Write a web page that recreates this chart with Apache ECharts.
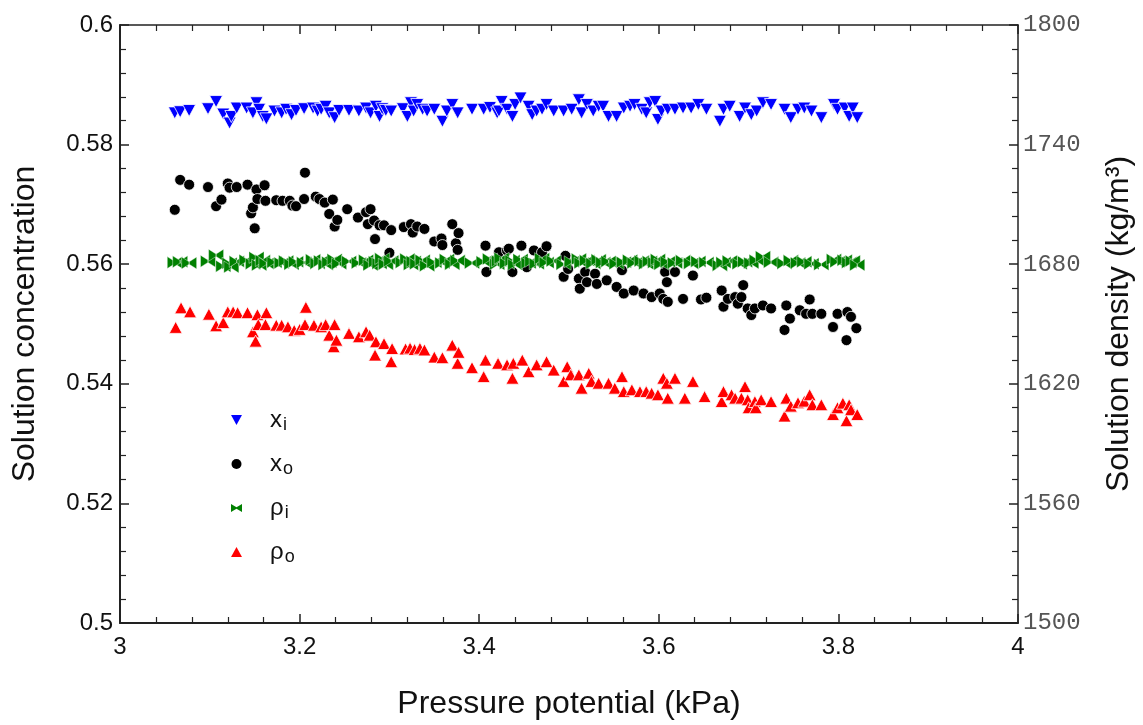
<!DOCTYPE html>
<html>
<head>
<meta charset="utf-8">
<script src="https://cdn.jsdelivr.net/npm/echarts@6/dist/echarts.min.js"></script>
<style>
html,body{margin:0;padding:0;background:#fff;}
#chart{width:1143px;height:725px;}
</style>
</head>
<body>
<div id="chart"></div>
<script>
// x axis ticks and axis ranges
const xTicks = [3, 3.2, 3.4, 3.6, 3.8, 4];
const concTicks = [0.5, 0.52, 0.54, 0.56, 0.58, 0.6];
const densTicks = [1500, 1560, 1620, 1680, 1740, 1800];

// inner side (x_i and rho_i) : pressure potential (kPa)
const innerP = [3.061,3.067,3.077,3.098,3.107,3.115,3.122,3.124,3.130,3.141,
  3.148,3.152,3.155,3.159,3.163,3.172,3.180,3.185,3.191,3.196,
  3.205,3.215,3.220,3.224,3.229,3.233,3.239,3.244,3.255,3.266,
  3.274,3.279,3.285,3.289,3.292,3.296,3.302,3.315,3.320,3.324,
  3.327,3.331,3.337,3.342,3.350,3.359,3.364,3.370,3.376,3.392,
  3.405,3.412,3.420,3.422,3.425,3.431,3.437,3.440,3.446,3.455,
  3.459,3.464,3.470,3.475,3.483,3.494,3.503,3.511,3.514,3.520,
  3.527,3.533,3.538,3.544,3.553,3.561,3.568,3.573,3.581,3.586,
  3.590,3.596,3.599,3.603,3.610,3.618,3.627,3.636,3.644,3.653,
  3.668,3.672,3.679,3.690,3.696,3.703,3.709,3.716,3.725,3.740,
  3.747,3.755,3.762,3.770,3.781,3.795,3.799,3.807,3.812,3.816,3.821];
// x_i : solution concentration
const xiValues = [0.5853,0.5855,0.5857,0.5860,0.5872,0.5851,0.5836,0.5847,0.5861,0.5861,
  0.5853,0.5870,0.5859,0.5847,0.5843,0.5856,0.5853,0.5859,0.5850,0.5857,
  0.5860,0.5861,0.5856,0.5859,0.5864,0.5853,0.5845,0.5857,0.5857,0.5856,
  0.5861,0.5853,0.5864,0.5847,0.5860,0.5857,0.5856,0.5860,0.5847,0.5870,
  0.5856,0.5867,0.5859,0.5856,0.5859,0.5839,0.5856,0.5867,0.5853,0.5859,
  0.5859,0.5862,0.5853,0.5856,0.5872,0.5859,0.5847,0.5867,0.5878,0.5864,
  0.5850,0.5856,0.5859,0.5867,0.5856,0.5856,0.5859,0.5875,0.5853,0.5867,
  0.5856,0.5864,0.5864,0.5847,0.5847,0.5861,0.5864,0.5867,0.5859,0.5853,
  0.5870,0.5872,0.5842,0.5856,0.5859,0.5859,0.5861,0.5861,0.5867,0.5859,
  0.5839,0.5859,0.5864,0.5847,0.5861,0.5850,0.5856,0.5870,0.5867,0.5859,
  0.5845,0.5859,0.5861,0.5856,0.5845,0.5867,0.5859,0.5861,0.5847,0.5861,0.5845];
// rho_i : solution density (kg/m3)
const rhoiValues = [1680.8,1681.2,1680.6,1681.5,1684.5,1679.0,1680.5,1678.6,1681.4,1682.0,
  1680.2,1683.4,1679.6,1681.8,1680.4,1681.0,1680.6,1681.6,1680.0,1681.2,
  1680.8,1682.2,1680.4,1681.6,1679.8,1681.0,1682.4,1680.2,1681.4,1680.6,
  1682.0,1679.6,1681.2,1680.4,1682.8,1680.0,1681.6,1680.8,1682.6,1679.8,
  1681.4,1680.2,1682.0,1679.2,1681.0,1680.6,1682.4,1680.0,1681.8,1680.6,
  1681.2,1682.6,1680.0,1681.6,1683.0,1680.4,1681.8,1679.8,1682.4,1680.6,
  1681.4,1680.2,1682.8,1680.8,1681.6,1680.0,1681.2,1682.6,1680.6,1681.8,
  1680.4,1682.2,1680.8,1681.4,1680.2,1681.0,1682.0,1680.6,1681.6,1680.2,
  1681.4,1680.8,1682.4,1680.0,1681.2,1680.6,1681.8,1680.4,1681.4,1680.8,
  1679.4,1680.8,1681.6,1680.2,1681.2,1680.6,1682.0,1683.8,1681.0,1680.4,
  1681.8,1680.6,1681.2,1680.2,1679.8,1682.4,1681.2,1682.0,1680.8,1681.6,1679.6];

// x_o : pressure potential and solution concentration
const xoP = [3.061,3.067,3.077,3.098,3.107,3.113,3.120,3.122,3.130,3.142,
  3.146,3.148,3.150,3.152,3.153,3.161,3.162,3.174,3.181,3.189,
  3.192,3.196,3.205,3.206,3.218,3.222,3.228,3.233,3.237,3.239,
  3.242,3.253,3.265,3.274,3.276,3.279,3.283,3.284,3.289,3.294,
  3.300,3.302,3.316,3.324,3.326,3.331,3.339,3.350,3.358,3.359,
  3.370,3.374,3.376,3.377,3.407,3.408,3.422,3.431,3.433,3.437,
  3.447,3.453,3.461,3.470,3.475,3.494,3.496,3.499,3.511,3.512,
  3.518,3.520,3.529,3.531,3.542,3.553,3.559,3.561,3.572,3.583,
  3.592,3.601,3.605,3.607,3.609,3.610,3.618,3.627,3.638,3.647,
  3.653,3.670,3.672,3.677,3.685,3.688,3.692,3.694,3.699,3.703,
  3.707,3.716,3.725,3.740,3.742,3.746,3.757,3.764,3.768,3.771,
  3.781,3.794,3.799,3.809,3.810,3.814,3.820];
const xoValues = [0.5691,0.5741,0.5733,0.5729,0.5697,0.5708,0.5735,0.5728,0.5729,0.5733,
  0.5685,0.5695,0.5660,0.5725,0.5709,0.5732,0.5706,0.5707,0.5706,0.5706,
  0.5698,0.5697,0.5709,0.5753,0.5713,0.5709,0.5703,0.5684,0.5708,0.5663,
  0.5674,0.5692,0.5678,0.5687,0.5667,0.5692,0.5673,0.5642,0.5665,0.5665,
  0.5619,0.5657,0.5662,0.5667,0.5653,0.5663,0.5659,0.5638,0.5643,0.5632,
  0.5667,0.5635,0.5624,0.5652,0.5631,0.5587,0.5620,0.5623,0.5626,0.5587,
  0.5631,0.5595,0.5623,0.5620,0.5630,0.5579,0.5614,0.5592,0.5576,0.5559,
  0.5587,0.5570,0.5584,0.5567,0.5573,0.5562,0.5590,0.5551,0.5556,0.5551,
  0.5545,0.5551,0.5542,0.5587,0.5570,0.5537,0.5587,0.5542,0.5581,0.5541,
  0.5544,0.5556,0.5529,0.5542,0.5545,0.5534,0.5545,0.5565,0.5526,0.5515,
  0.5526,0.5531,0.5526,0.5490,0.5531,0.5509,0.5523,0.5517,0.5541,0.5517,
  0.5517,0.5495,0.5517,0.5473,0.5520,0.5512,0.5493];

// rho_o : pressure potential and solution density (kg/m3)
const rhooP = [3.062,3.068,3.078,3.099,3.107,3.115,3.120,3.126,3.131,3.142,
  3.148,3.151,3.153,3.154,3.162,3.163,3.174,3.180,3.187,3.194,
  3.200,3.206,3.207,3.216,3.224,3.229,3.233,3.238,3.239,3.241,
  3.255,3.266,3.274,3.278,3.284,3.285,3.294,3.302,3.303,3.318,
  3.323,3.328,3.334,3.339,3.350,3.359,3.370,3.376,3.377,3.392,
  3.405,3.407,3.421,3.431,3.437,3.438,3.448,3.455,3.464,3.475,
  3.483,3.494,3.498,3.502,3.511,3.514,3.522,3.525,3.533,3.544,
  3.551,3.559,3.561,3.570,3.579,3.586,3.592,3.599,3.605,3.609,
  3.610,3.618,3.629,3.638,3.651,3.670,3.672,3.681,3.685,3.692,
  3.696,3.699,3.700,3.707,3.708,3.714,3.725,3.740,3.742,3.747,
  3.755,3.762,3.768,3.771,3.781,3.794,3.799,3.805,3.809,3.812,3.814,3.821];
const rhooValues = [1648.3,1658.1,1656.1,1654.9,1649.1,1650.7,1656.1,1656.1,1655.7,1655.7,
  1646.1,1641.4,1654.7,1649.7,1649.7,1655.7,1649.4,1649.4,1648.6,1646.8,
  1647.3,1649.7,1658.4,1649.4,1648.6,1649.7,1644.4,1638.6,1649.7,1641.9,
  1645.3,1643.6,1646.1,1644.4,1634.4,1641.1,1640.2,1631.1,1637.7,1637.5,
  1637.9,1637.2,1637.8,1637.0,1633.4,1633.1,1639.4,1630.3,1635.8,1628.1,
  1623.6,1631.9,1630.3,1629.5,1622.8,1630.3,1631.9,1626.1,1629.5,1631.1,
  1626.9,1621.2,1628.6,1624.5,1624.5,1617.8,1625.3,1621.2,1620.3,1620.3,
  1617.8,1623.6,1616.1,1617.0,1616.1,1616.1,1615.3,1614.5,1622.8,1620.3,
  1612.8,1622.8,1612.8,1621.2,1613.6,1611.1,1616.1,1614.5,1612.8,1612.8,
  1618.6,1612.0,1608.0,1611.1,1608.0,1612.0,1611.1,1603.8,1612.8,1608.8,
  1610.5,1611.3,1614.5,1609.5,1609.5,1604.6,1608.0,1610.3,1601.5,1609.5,1607.0,1604.6];

const seriesNames = ['x_i', 'x_o', 'rho_i', 'rho_o'];
const legendLabels = {
  'x_i': '{m|x}{s|i}',
  'x_o': '{m|x}{s|o}',
  'rho_i': '{m|ρ}{s|i}',
  'rho_o': '{m|ρ}{s|o}'
};

function pairs(xs, ys) { return xs.map((x, i) => [x, ys[i]]); }

const downTri = 'path://M0,0 L12,0 L6,11 Z';
const upTri = 'path://M6,0 L12,11 L0,11 Z';
const bowtie = 'path://M0,0 L7,4 L7,6 L0,10 Z M14,0 L7,4 L7,6 L14,10 Z';
const axisColor = '#222';
const fontMain = 'Liberation Sans, Arial, sans-serif';
const noBorder = {borderWidth: 0};

const chart = echarts.init(document.getElementById('chart'), null, {renderer: 'canvas'});
chart.setOption({
  animation: false,
  backgroundColor: '#fff',
  grid: {left: 120, right: 122, top: 25, bottom: 99, containLabel: false},
  legend: {
    orient: 'vertical',
    left: 226, top: 401,
    itemWidth: 11, itemHeight: 10,
    itemGap: 16,
    data: [
      {name: 'x_i', icon: downTri, itemStyle: noBorder},
      {name: 'x_o', icon: 'circle', itemStyle: noBorder},
      {name: 'rho_i', icon: bowtie, itemStyle: noBorder},
      {name: 'rho_o', icon: upTri, itemStyle: noBorder}
    ],
    formatter: n => legendLabels[n],
    textStyle: {
      rich: {
        m: {fontSize: 24, fontFamily: fontMain, color: '#111', lineHeight: 26, padding: [0, 0, 0, 23]},
        s: {fontSize: 18, fontFamily: fontMain, color: '#111', lineHeight: 18, padding: [10, 0, 0, 1]}
      }
    }
  },
  xAxis: [{
    type: 'value', min: xTicks[0], max: xTicks[xTicks.length - 1], interval: 0.2,
    position: 'bottom',
    name: 'Pressure potential (kPa)', nameLocation: 'middle', nameGap: 65,
    nameTextStyle: {fontSize: 32, fontFamily: fontMain, color: '#111'},
    axisLine: {show: true, onZero: false, lineStyle: {color: axisColor, width: 2}},
    axisTick: {show: true, inside: true, length: 9, lineStyle: {color: axisColor, width: 1.5}},
    minorTick: {show: true, splitNumber: 5, length: 6, lineStyle: {color: axisColor, width: 1.2}},
    axisLabel: {fontSize: 24, fontFamily: fontMain, color: '#111', margin: 12, showMinLabel: true, showMaxLabel: true},
    splitLine: {show: false}
  }, {
    type: 'value', min: xTicks[0], max: xTicks[xTicks.length - 1], interval: 0.2,
    position: 'top',
    axisLine: {show: true, onZero: false, lineStyle: {color: axisColor, width: 1.5}},
    axisTick: {show: true, inside: true, length: 9, lineStyle: {color: axisColor, width: 1.5}},
    minorTick: {show: true, splitNumber: 5, length: 6, lineStyle: {color: axisColor, width: 1.2}},
    axisLabel: {show: false},
    splitLine: {show: false}
  }],
  yAxis: [{
    type: 'value', min: concTicks[0], max: concTicks[concTicks.length - 1], interval: 0.02,
    position: 'left',
    name: 'Solution concentration', nameLocation: 'middle', nameGap: 79, nameRotate: 90,
    nameTextStyle: {fontSize: 32, fontFamily: fontMain, color: '#111'},
    axisLine: {show: true, onZero: false, lineStyle: {color: axisColor, width: 2}},
    axisTick: {show: true, inside: true, length: 9, lineStyle: {color: axisColor, width: 1.5}},
    minorTick: {show: true, splitNumber: 5, length: 6, lineStyle: {color: axisColor, width: 1.2}},
    axisLabel: {fontSize: 24, fontFamily: fontMain, color: '#111', margin: 7, showMinLabel: true, showMaxLabel: true},
    splitLine: {show: false}
  }, {
    type: 'value', min: densTicks[0], max: densTicks[densTicks.length - 1], interval: 60,
    position: 'right',
    name: 'Solution density (kg/m³)', nameLocation: 'middle', nameGap: 85, nameRotate: 90,
    nameTextStyle: {fontSize: 32, fontFamily: fontMain, color: '#111'},
    axisLine: {show: true, onZero: false, lineStyle: {color: axisColor, width: 1.5}},
    axisTick: {show: true, inside: true, length: 9, lineStyle: {color: axisColor, width: 1.5}},
    minorTick: {show: true, splitNumber: 5, length: 6, lineStyle: {color: axisColor, width: 1.2}},
    axisLabel: {fontSize: 24, fontFamily: 'Liberation Mono, DejaVu Sans Mono, monospace', color: '#555', margin: 5,
      showMinLabel: true, showMaxLabel: true, formatter: v => String(v)},
    splitLine: {show: false}
  }],
  series: [{
    name: 'x_i', type: 'scatter', xAxisIndex: 0, yAxisIndex: 0,
    symbol: 'triangle', symbolRotate: 180, symbolSize: [13, 12],
    itemStyle: {color: '#0000ff', borderColor: '#fff', borderWidth: 0.8, opacity: 1},
    data: pairs(innerP, xiValues)
  }, {
    name: 'x_o', type: 'scatter', xAxisIndex: 0, yAxisIndex: 0,
    symbol: 'circle', symbolSize: 11,
    itemStyle: {color: '#000', borderColor: '#fff', borderWidth: 0.8, opacity: 1},
    data: pairs(xoP, xoValues)
  }, {
    name: 'rho_i', type: 'scatter', xAxisIndex: 0, yAxisIndex: 1,
    symbol: bowtie, symbolSize: [15, 12],
    itemStyle: {color: '#008000', borderColor: '#fff', borderWidth: 0.4, opacity: 1},
    data: pairs(innerP, rhoiValues)
  }, {
    name: 'rho_o', type: 'scatter', xAxisIndex: 0, yAxisIndex: 1,
    symbol: 'triangle', symbolSize: [13, 12],
    itemStyle: {color: '#ff0000', borderColor: '#fff', borderWidth: 0.8, opacity: 1},
    data: pairs(rhooP, rhooValues)
  }]
});
</script>
</body>
</html>
